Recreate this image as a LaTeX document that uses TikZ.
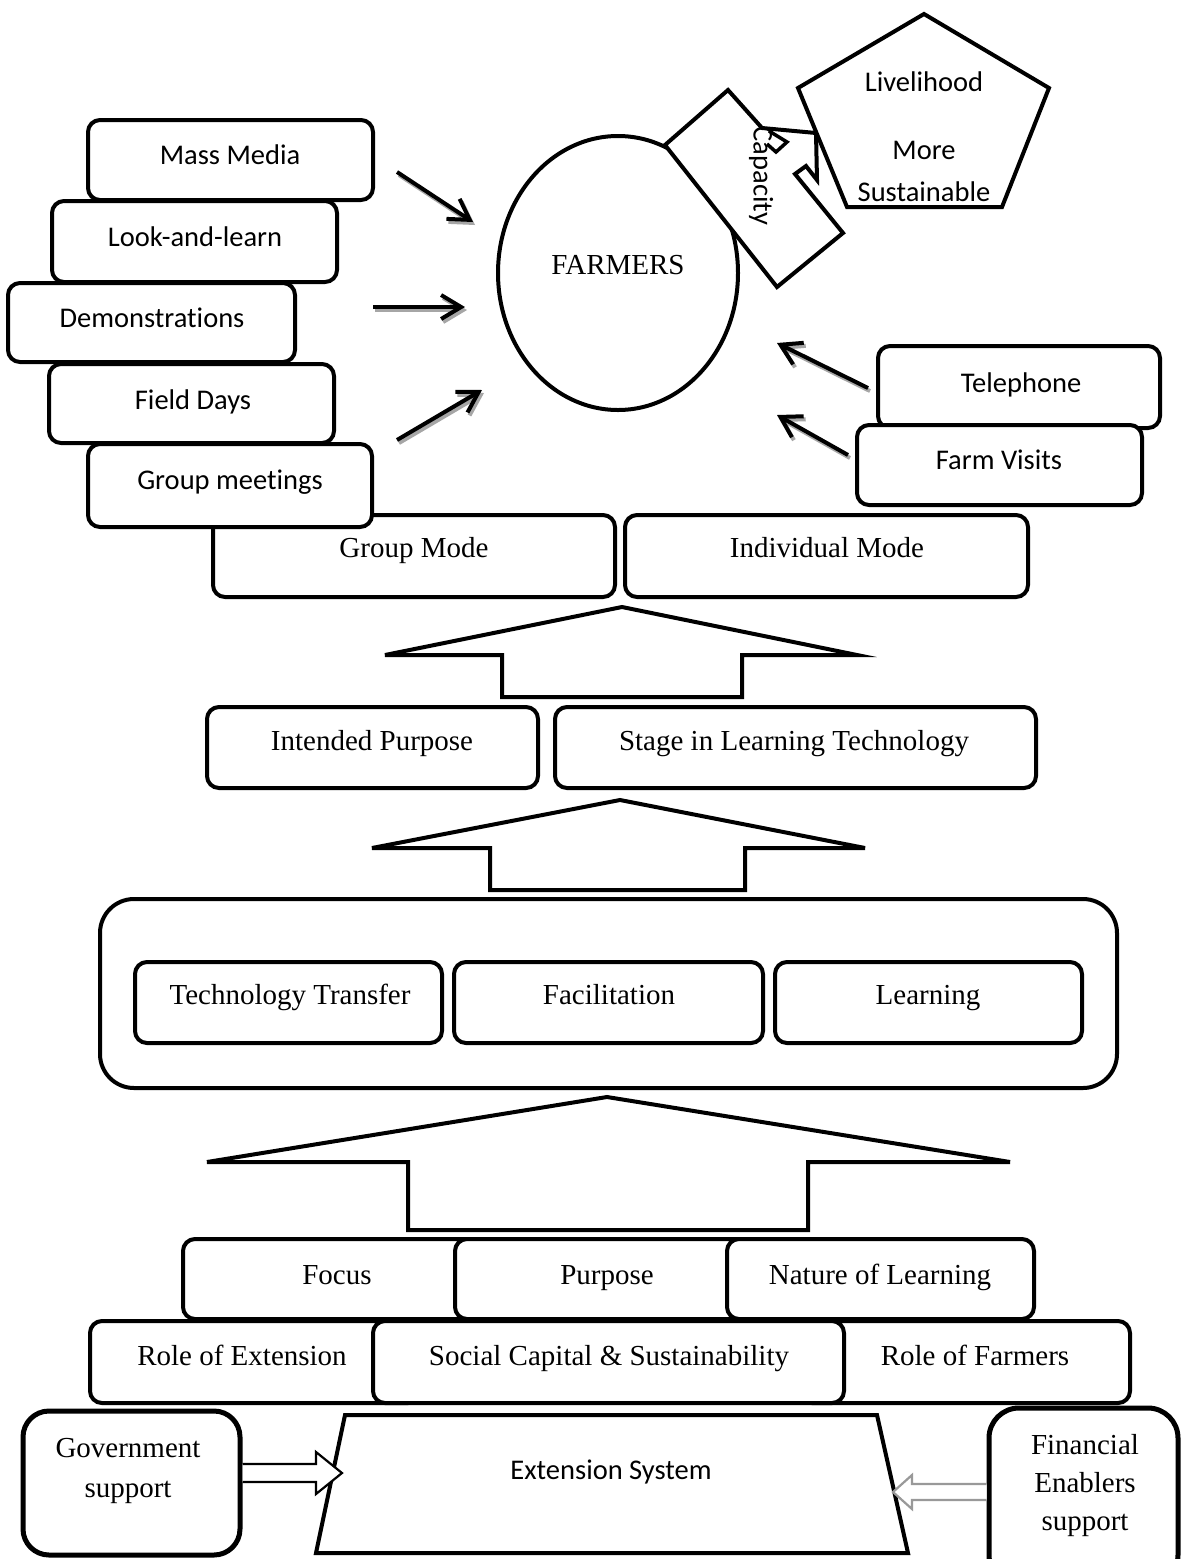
\documentclass[tikz,border=0pt]{standalone}
\usepackage{fontspec}
\setmainfont{Liberation Serif}
\newfontfamily\calfont[Ligatures=NoCommon]{Carlito}
\usetikzlibrary{arrows.meta,shapes.geometric,calc}
\newcommand\rbox[6][]{\node[box,#1,minimum width={(#5-#3)*1pt},minimum height={(#6-#4)*1pt}] (#2) at ({(#3+#5)/2},{(#4+#6)/2}) {};}
\begin{document}
\begin{tikzpicture}[x=1pt,y=-1pt,
  box/.style={draw, line width=4pt, rounded corners=12pt, fill=white, inner sep=0pt},
  bigarrow/.style={draw, line width=4pt, fill=white, line join=miter},
  serifml/.style={font=\fontsize{29}{34}\selectfont, inner sep=0pt},
  serif/.style={serifml, text height=19pt, text depth=1pt},
  sans/.style={font=\calfont\fontsize{28.5}{34}\selectfont, inner sep=0pt, text height=19pt, text depth=1pt},
  ptr/.style={line width=4pt, -{Straight Barb[length=20pt,width=24pt]}},
  ptrshadow/.style={ptr, draw=black!35, transform canvas={xshift=2pt,yshift=-3pt}},
  hollow/.style={line width=2.2pt, fill=white, line join=miter}
]
\fill[white] (0,0) rectangle (1181,1559);
\useasboundingbox (0,0) rectangle (1181,1559);

% ---------- FARMERS ellipse ----------
\node[draw, ellipse, line width=4pt, minimum width=240pt, minimum height=274pt, inner sep=0pt] (farmers) at (618,273) {};
\node[serif] (farmerst) at (618,265) {FARMERS};

% ---------- Capacity callout ----------
\coordinate (capA) at (728,90);
\coordinate (capE) at (762,128);
\coordinate (capT) at (816,133);
\coordinate (capF) at (817,180);
\coordinate (capG) at (806,166);
\coordinate (capH) at (795,174);
\coordinate (capB) at (843,233);
\coordinate (capC) at (777,287);
\coordinate (capD) at (665,145);
\draw[line width=4pt, fill=white, line join=miter] (capA) -- (capE) -- (capT) -- (capF) -- (capG) -- (capH) -- (capB) -- (capC) -- (capD) -- cycle;
\draw[line width=3.5pt, line join=miter] (769,131) -- (787,142) -- (776,152) -- (767,144);
\node[sans, rotate=-90, text depth=6pt] (capacity) at (760,176) {Capacity};

% ---------- Pentagon ----------
\draw[line width=4pt, fill=white, line join=miter] (924,14) -- (1049,88) -- (1002,207) -- (847,207) -- (798,88) -- cycle;
\node[sans] (liv) at (924,82) {Livelihood};
\node[sans] (more) at (924,150) {More};
\node[sans] (sust) at (924,192) {Sustainable};

% ---------- Mode boxes ----------
\rbox{gmode}{213}{515}{615}{597}
\node[serif] (gmodet) at (414,548) {Group Mode};
\rbox{imode}{625}{515}{1028}{597}
\node[serif] (imodet) at (827,548) {Individual Mode};

% ---------- Left stack ----------
\rbox{mm}{88}{120}{373}{200}
\node[sans] (mmt) at (230,155) {Mass Media};
\rbox{ll}{52}{201}{337}{282}
\node[sans] (llt) at (195,237) {Look-and-learn};
\rbox{dem}{8}{283}{295}{362}
\node[sans] (demt) at (152,318) {Demonstrations};
\rbox{fd}{49}{364}{334}{443}
\node[sans] (fdt) at (193,400) {Field Days};
\rbox{grp}{88}{444}{372}{527}
\node[sans] (grpt) at (230,480) {Group meetings};

% ---------- Right stack ----------
\rbox{tel}{878}{346}{1160}{428}
\node[sans] (telt) at (1021,383) {Telephone};
\rbox{fv}{857}{425}{1142}{505}
\node[sans] (fvt) at (999,460) {Farm Visits};

% ---------- pointers ----------
\coordinate (p1s) at (397,172); \coordinate (p1e) at (473,222);
\coordinate (p2s) at (373,307); \coordinate (p2e) at (465,307);
\coordinate (p3s) at (397,440); \coordinate (p3e) at (482,390);
\coordinate (p4s) at (868,388); \coordinate (p4e) at (777,343);
\coordinate (p5s) at (848,455); \coordinate (p5e) at (777,415);
\foreach \s/\e in {p1s/p1e,p2s/p2e,p3s/p3e,p4s/p4e,p5s/p5e}{
  \draw[ptrshadow] (\s) -- (\e);
  \draw[ptr] (\s) -- (\e);
}

% ---------- Big arrow 1 ----------
\draw[bigarrow] (622,607) -- (857,655) -- (742,655) -- (742,697) -- (502,697) -- (502,655) -- (385,655) -- cycle;

% ---------- Intended purpose row ----------
\rbox{ip}{207}{707}{538}{788}
\node[serif] (ipt) at (372,741) {Intended Purpose};
\rbox{slt}{555}{707}{1036}{788}
\node[serif] (sltt) at (794,741) {Stage in Learning Technology};

% ---------- Big arrow 2 ----------
\draw[bigarrow] (620,800) -- (865,848) -- (745,848) -- (745,890) -- (490,890) -- (490,848) -- (372,848) -- cycle;

% ---------- Outer box ----------
\rbox[rounded corners=34pt]{outer}{100}{899}{1117}{1088}
\rbox{tt}{135}{962}{442}{1043}
\node[serif] (ttt) at (290,995) {Technology Transfer};
\rbox{fac}{454}{962}{763}{1043}
\node[serif] (fact) at (609,995) {Facilitation};
\rbox{lrn}{775}{962}{1082}{1043}
\node[serif] (lrnt) at (928,995) {Learning};

% ---------- Big arrow 3 ----------
\draw[bigarrow] (607,1097) -- (1010,1162) -- (808,1162) -- (808,1230) -- (408,1230) -- (408,1162) -- (207,1162) -- cycle;

% ---------- Focus row ----------
\rbox{foc}{183}{1239}{520}{1319}
\node[serif] (foct) at (337,1275) {Focus};
\rbox{pur}{455}{1239}{790}{1319}
\node[serif] (purt) at (607,1275) {Purpose};
\rbox{nat}{727}{1239}{1034}{1319}
\node[serif] (natt) at (880,1275) {Nature of Learning};

% ---------- Role row ----------
\rbox{rext}{90}{1321}{420}{1403}
\node[serif] (rextt) at (242,1356) {Role of Extension};
\rbox{rfar}{800}{1321}{1130}{1403}
\node[serif] (rfart) at (975,1356) {Role of Farmers};
\rbox{scs}{373}{1321}{844}{1403}
\node[serif] (scst) at (609,1356) {Social Capital \& Sustainability};

% ---------- Bottom ----------
\rbox[rounded corners=26pt, line width=5pt]{gov}{23}{1411}{240}{1555}
\node[serifml, align=center] (govt) at (128,1471) {Government\\[6pt]support};
\rbox[rounded corners=30pt, line width=5pt]{fin}{989}{1408}{1178}{1585}
\node[serifml, align=center] (fint) at (1085,1486) {Financial\\[4pt]Enablers\\[4pt]support};

\coordinate (ts1) at (345,1415);
\coordinate (ts2) at (877,1415);
\coordinate (ts3) at (908,1553);
\coordinate (ts4) at (316,1553);
\draw[line width=4pt, fill=white, line join=miter] (ts1) -- (ts2) -- (ts3) -- (ts4) -- cycle;
\node[sans] (ext) at (611,1470) {Extension System};

% government arrow (gov.east is at y=1483)
\draw[hollow] ($(gov.east)+(0,-19)$) -- (316,1464) -- (316,1452) -- (342,1473) -- (316,1494) -- (316,1482) -- ($(gov.east)+(0,-1)$);
% financial arrow (fin.west is at y=1496.5)
\draw[hollow, draw=black!40] ($(fin.west)+(0,-12.5)$) -- (912,1484) -- (912,1475) -- (893,1492) -- (912,1509) -- (912,1500) -- ($(fin.west)+(0,3.5)$);
\end{tikzpicture}
\end{document}
